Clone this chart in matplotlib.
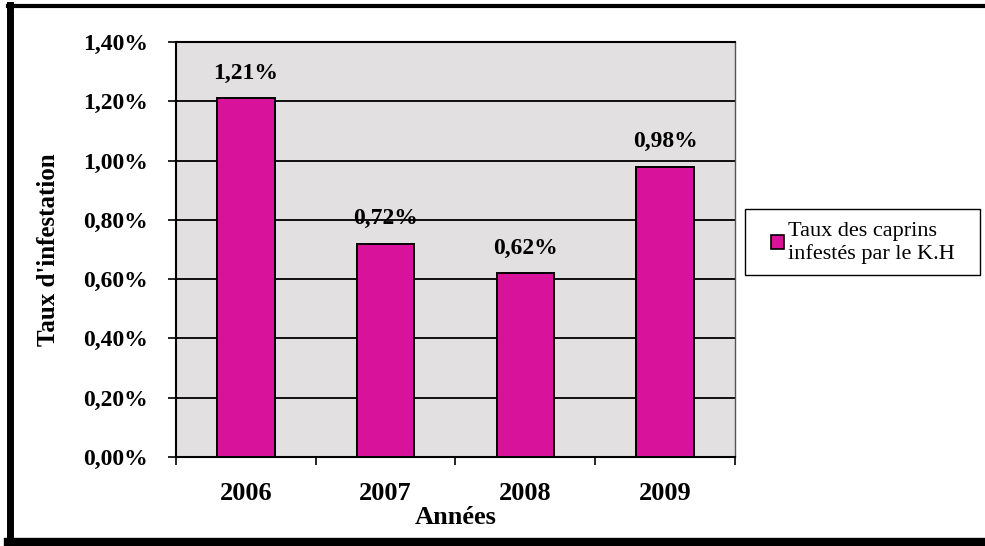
import matplotlib
matplotlib.use("Agg")
import matplotlib.pyplot as plt
from matplotlib.lines import Line2D
from matplotlib.patches import Patch, Rectangle

years = ["2006", "2007", "2008", "2009"]
rates = [1.21, 0.72, 0.62, 0.98]
y_ticks = [0.0, 0.2, 0.4, 0.6, 0.8, 1.0, 1.2, 1.4]
series_name = "Taux des caprins\ninfestés par le K.H"

BAR_COLOR = "#d8129b"
PLOT_BG = "#e2e0e0"


def pct(v):
    return f"{v:.2f}%".replace(".", ",")


plt.rcParams["font.family"] = ["Liberation Serif", "DejaVu Serif"]

fig = plt.figure(figsize=(9.85, 5.46), dpi=100)
ax = fig.add_axes([176 / 985, 1 - 457 / 546, 559 / 985, 415 / 546])
ax.set_facecolor(PLOT_BG)

x = list(range(len(years)))
ax.bar(x, rates, width=0.41, color=BAR_COLOR, edgecolor="black",
       linewidth=1.4, zorder=3)

for xi, v in zip(x, rates):
    ax.annotate(pct(v), (xi, v), xytext=(0, 18), textcoords="offset points",
                ha="center", va="center", fontsize=17, fontweight="bold",
                zorder=4)

ax.set_xlim(-0.5, len(years) - 0.5)
ax.set_ylim(0, 1.4)
ax.set_yticks(y_ticks)
ax.set_yticklabels([pct(v) for v in y_ticks], fontsize=17, fontweight="bold")
ax.yaxis.grid(True, color="black", linewidth=1.3, zorder=1)
ax.set_axisbelow(True)

# category labels without ticks, tick marks between categories
ax.set_xticks(x)
ax.set_xticklabels(years, fontsize=19, fontweight="bold")
ax.tick_params(axis="x", which="major", length=0, pad=18)
ax.set_xticks([i - 0.5 for i in range(len(years) + 1)], minor=True)
ax.tick_params(axis="x", which="minor", length=6, width=1.2, direction="out")
ax.tick_params(axis="y", length=6, width=1.2, direction="out", pad=14)

for side in ["left", "bottom", "top"]:
    ax.spines[side].set_linewidth(1.5)
ax.spines["right"].set_linewidth(1.0)
ax.spines["right"].set_color("#555555")

ax.set_xlabel("Années", fontsize=19, fontweight="bold")
ax.xaxis.set_label_coords(0.5, -0.118)
ax.set_ylabel("Taux d'infestation", fontsize=18, fontweight="bold")
ax.yaxis.set_label_coords(-0.208, 0.5)

# legend: frame drawn separately so the box keeps its width
handle = Patch(facecolor=BAR_COLOR, edgecolor="black", linewidth=1.2)
fig.legend([handle], [series_name], loc="center left",
           bbox_to_anchor=(760 / 985, 1 - 243 / 546),
           frameon=False, fontsize=16, handlelength=0.6, handleheight=0.6,
           handletextpad=0.15, borderpad=0.0, labelspacing=0.2)
fig.add_artist(Rectangle((745 / 985, 1 - 275 / 546), 235 / 985, 66 / 546,
                         transform=fig.transFigure, fill=False,
                         edgecolor="black", linewidth=1.0))

# outer frame around the chart
fig.add_artist(Line2D([10 / 985, 10 / 985], [1 - 5 / 546, 1 - 543 / 546],
                      transform=fig.transFigure, color="black", linewidth=5))
fig.add_artist(Line2D([8 / 985, 1], [1 - 6 / 546, 1 - 6 / 546],
                      transform=fig.transFigure, color="black", linewidth=3))
fig.add_artist(Line2D([8 / 985, 1], [1 - 542 / 546, 1 - 542 / 546],
                      transform=fig.transFigure, color="black", linewidth=6))

fig.savefig("out.png", dpi=100)
